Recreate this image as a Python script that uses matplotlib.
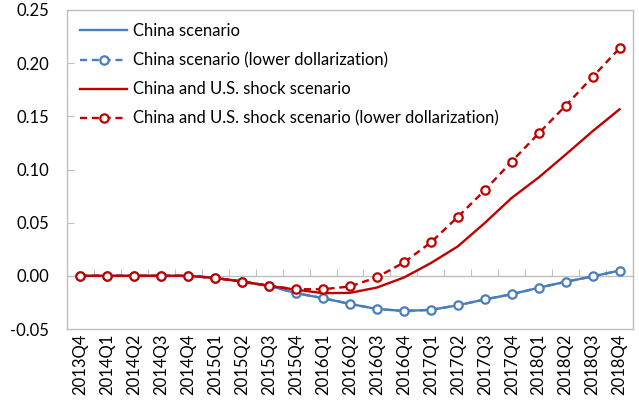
import matplotlib
matplotlib.use("Agg")
import matplotlib.pyplot as plt
import numpy as np

quarters = ["2013Q4", "2014Q1", "2014Q2", "2014Q3", "2014Q4", "2015Q1", "2015Q2",
            "2015Q3", "2015Q4", "2016Q1", "2016Q2", "2016Q3", "2016Q4", "2017Q1",
            "2017Q2", "2017Q3", "2017Q4", "2018Q1", "2018Q2", "2018Q3", "2018Q4"]

china = [0.0, 0.0, 0.0, 0.0, 0.0, -0.002, -0.0054, -0.0094, -0.0163, -0.021, -0.0264,
         -0.0312, -0.033, -0.032, -0.0277, -0.0222, -0.0173, -0.0112, -0.0056, -0.0006, 0.005]
china_low = [0.0, 0.0, 0.0, 0.0, 0.0, -0.002, -0.0054, -0.0094, -0.0163, -0.021, -0.0264,
             -0.0312, -0.033, -0.032, -0.0277, -0.0222, -0.0173, -0.0112, -0.0056, -0.0006, 0.005]
china_us = [0.0, 0.0, 0.0, 0.0, 0.0, -0.002, -0.0054, -0.0094, -0.013, -0.0163, -0.016,
            -0.011, -0.0016, 0.012, 0.0277, 0.0497, 0.0733, 0.0925, 0.114, 0.136, 0.1566]
china_us_low = [0.0, 0.0, 0.0, 0.0, 0.0, -0.002, -0.0054, -0.0094, -0.0126, -0.0126, -0.010,
                -0.0013, 0.0126, 0.0314, 0.0554, 0.0805, 0.1075, 0.134, 0.160, 0.187, 0.214]

labels = ["China scenario", "China scenario (lower dollarization)",
          "China and U.S. shock scenario", "China and U.S. shock scenario (lower dollarization)"]

BLUE = "#4A7EBB"
RED = "#C00000"
GREY = "#BFBFBF"

plt.rcParams['font.family'] = ['Lato', 'DejaVu Sans']

fig = plt.figure(figsize=(6.39, 4.05), dpi=100)
ax = fig.add_axes([67/639, 1-329/405, (633-67)/639, (329-10)/405])

x = np.arange(len(quarters))
mk = dict(marker='o', markersize=6, markerfacecolor='white', markeredgewidth=1.6)
ax.plot(x, china, color=BLUE, lw=1.7, label=labels[0], zorder=3)
ax.plot(x, china_low, color=BLUE, lw=1.7, ls=(0, (3, 2)), label=labels[1],
        markeredgecolor=BLUE, zorder=3, **mk)
ax.plot(x, china_us, color=RED, lw=1.7, label=labels[2], zorder=4)
ax.plot(x, china_us_low, color=RED, lw=1.7, ls=(0, (3, 2)), label=labels[3],
        markeredgecolor=RED, zorder=4, **mk)

ax.set_xlim(-0.5, len(quarters) - 0.5)
ax.set_ylim(-0.05, 0.25)
ax.set_yticks(np.arange(-0.05, 0.2501, 0.05))
ax.set_yticklabels([f"{v:.2f}" for v in np.arange(-0.05, 0.2501, 0.05)])
ax.set_xticks(x)
ax.set_xticklabels(quarters, rotation=90)

for s in ax.spines.values():
    s.set_color(GREY)
    s.set_linewidth(1.0)
ax.tick_params(axis='y', direction='in', length=5, color=GREY, labelsize=12,
               labelcolor='#000000', pad=13)
ax.tick_params(axis='x', length=0, labelsize=12, labelcolor='#000000', pad=3)

# category axis crossing at zero with between-category tick marks
sec = ax.secondary_xaxis(0.05 / 0.30)
sec.set_xticks(np.arange(-0.5, len(quarters), 1.0))
sec.set_xticklabels([])
sec.tick_params(direction='in', length=5, color=GREY)
sec.spines['bottom'].set_color(GREY)
sec.spines['bottom'].set_linewidth(1.0)

leg = ax.legend(loc='upper left', bbox_to_anchor=(0.0, 1.0), frameon=False,
                fontsize=12, handlelength=2.8, handletextpad=0.35,
                labelspacing=0.78, borderaxespad=0.4)

fig.savefig("out.png", dpi=100)
